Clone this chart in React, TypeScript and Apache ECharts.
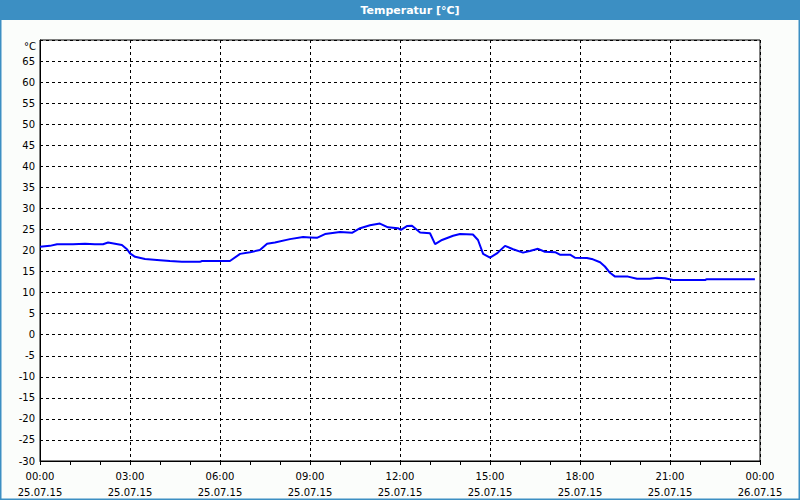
import React, { useEffect, useRef } from "react";
import * as echarts from "echarts";

const hours = [
  0, 0.33, 0.57, 1.1, 1.5, 1.83, 2.1, 2.27, 2.5, 2.73, 2.9, 3.0, 3.17, 3.5, 4.0, 4.33, 4.73, 5.33, 5.4,
  6.33, 6.67, 7.0, 7.33, 7.57, 7.83, 8.33, 8.77, 9.0, 9.23, 9.5, 10.0, 10.4, 10.67, 11.0, 11.33, 11.6,
  11.93, 12.03, 12.23, 12.4, 12.67, 13.0, 13.17, 13.4, 13.77, 14.0, 14.43, 14.6, 14.77, 15.0, 15.23,
  15.5, 15.77, 16.1, 16.33, 16.6, 16.83, 17.17, 17.33, 17.67, 17.83, 18.23, 18.43, 18.67, 18.83, 19.0,
  19.17, 19.6, 19.9, 20.33, 20.57, 20.83, 21.1, 22.17, 22.23, 23.83,
];
const temps = [
  20.9, 21.1, 21.5, 21.5, 21.6, 21.5, 21.5, 21.9, 21.6, 21.3, 20.3, 19.3, 18.5, 18.0, 17.7, 17.5, 17.3,
  17.3, 17.5, 17.5, 19.2, 19.6, 20.1, 21.6, 21.9, 22.7, 23.2, 23.1, 23.0, 23.9, 24.4, 24.2, 25.3, 26.0,
  26.4, 25.5, 25.3, 24.9, 25.8, 25.9, 24.3, 24.1, 21.5, 22.5, 23.5, 23.9, 23.8, 22.5, 19.2, 18.3, 19.3,
  21.1, 20.3, 19.5, 19.9, 20.4, 19.7, 19.6, 19.0, 19.0, 18.3, 18.2, 17.9, 17.2, 16.2, 14.7, 13.8, 13.8,
  13.3, 13.3, 13.5, 13.4, 13.0, 13.0, 13.2, 13.2,
];
const timeLabels = ["00:00", "03:00", "06:00", "09:00", "12:00", "15:00", "18:00", "21:00", "00:00"];
const dateLabels = [
  "25.07.15", "25.07.15", "25.07.15", "25.07.15", "25.07.15", "25.07.15", "25.07.15", "25.07.15", "26.07.15",
];
const title = "Temperatur [°C]";
const unitLabel = "°C";

export default function App() {
  const ref = useRef<HTMLDivElement>(null);
  useEffect(() => {
    document.body.style.margin = "0";
    const chart = echarts.init(ref.current!, null, { renderer: "svg" });
    const font = "DejaVu Sans";
    chart.setOption({
      animation: false,
      backgroundColor: "#fbfdfb",
      graphic: [
        { type: "rect", shape: { x: 0, y: 0, width: 800, height: 20 }, style: { fill: "#3c8fc3" }, z: 10 },
        {
          type: "rect",
          shape: { x: 0.5, y: 0.5, width: 799, height: 499 },
          style: { fill: "none", stroke: "#3c8fc3", lineWidth: 2 },
          z: 10,
        },
        {
          type: "text",
          x: 410,
          y: 10,
          z: 11,
          style: {
            text: title,
            fill: "#ffffff",
            font: `bold 11px ${font}`,
            align: "center",
            verticalAlign: "middle",
          },
        },
        {
          type: "text",
          x: 36,
          y: 46,
          z: 11,
          style: {
            text: unitLabel,
            fill: "#000",
            font: `10px ${font}`,
            align: "right",
            verticalAlign: "middle",
          },
        },
      ],
      grid: {
        left: 40,
        top: 40,
        width: 720,
        height: 421,
        show: true,
        borderColor: "#000",
        borderWidth: 1,
        backgroundColor: "#ffffff",
      },
      xAxis: {
        type: "value",
        min: 0,
        max: 24,
        interval: 3,
        axisLine: { onZero: false, lineStyle: { color: "#000", width: 1 } },
        axisTick: { show: true, length: 4, lineStyle: { color: "#000" } },
        minorTick: { show: true, splitNumber: 3, length: 4, lineStyle: { color: "#000" } },
        splitLine: { show: true, lineStyle: { color: "#000", type: [3, 3], width: 1 } },
        axisLabel: {
          color: "#000",
          fontFamily: font,
          fontSize: 10,
          lineHeight: 16,
          margin: 7,
          formatter: (v: number) => {
            const i = Math.round(v / 3);
            return `${timeLabels[i]}\n${dateLabels[i]}`;
          },
        },
      },
      yAxis: {
        type: "value",
        min: -30,
        max: 70,
        interval: 5,
        axisLine: { show: true, onZero: false, lineStyle: { color: "#000", width: 1 } },
        axisTick: { show: false },
        splitLine: { show: true, lineStyle: { color: "#000", type: [3, 3], width: 1 } },
        axisLabel: {
          color: "#000",
          fontFamily: font,
          fontSize: 10,
          margin: 5,
          formatter: (v: number) => (v === 70 ? "" : String(v)),
        },
      },
      series: [
        {
          type: "line",
          data: hours.map((h, i) => [h, temps[i]]),
          showSymbol: false,
          lineStyle: { color: "#0000ff", width: 2 },
          itemStyle: { color: "#0000ff" },
        },
      ],
    });
    return () => chart.dispose();
  }, []);
  return <div ref={ref} style={{ width: 800, height: 500 }} />;
}
